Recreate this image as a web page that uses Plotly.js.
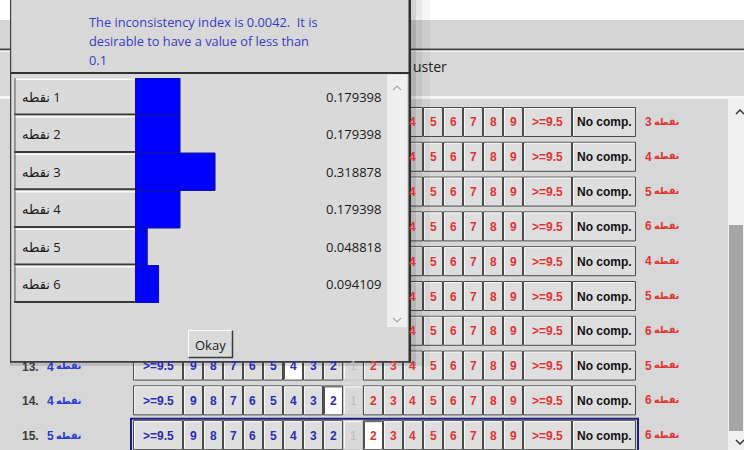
<!DOCTYPE html>
<html><head><meta charset="utf-8">
<script src="https://cdn.plot.ly/plotly-3.0.1.min.js"></script>
<style>html,body{margin:0;padding:0;background:#fff;}#chart{width:744px;height:450px;}</style>
</head><body><div id="chart"></div>
<script>
// ---------- data ----------
const itemLabels = ['نقطه 1', 'نقطه 2', 'نقطه 3', 'نقطه 4', 'نقطه 5', 'نقطه 6'];
const priorities = [0.179398, 0.179398, 0.318878, 0.179398, 0.048818, 0.094109];
const messageLines = ['The inconsistency index is 0.0042.  It is', 'desirable to have a value of less than', '0.1'];
const okLabel = 'Okay';
const itemWord = 'نقطه';
const rowNumbers = [6, 7, 8, 9, 10, 11, 12, 13, 14, 15];
const rowLeftItems = [2, 2, 2, 2, 3, 3, 3, 4, 4, 5];
const rowRightItems = [3, 4, 5, 6, 4, 5, 6, 5, 6, 6];
const scaleButtons = ['>=9.5', '9', '8', '7', '6', '5', '4', '3', '2', '1', '2', '3', '4', '5', '6', '7', '8', '9', '>=9.5', 'No comp.'];
const selectedButtons = {13: 6, 14: 8, 15: 10};
const activeRow = 15;
const clusterText = 'uster';

// ---------- helpers (layout only) ----------
const W = 744, H = 450;
const px = x => x / W, py = y => 1 - y / H;
const shapes = [], annotations = [];
function rect(x0, y0, x1, y1, fill, line, lw) {
  shapes.push({type: 'rect', xref: 'paper', yref: 'paper', x0: px(x0), x1: px(x1), y0: py(y1), y1: py(y0),
    fillcolor: fill, line: {color: line || 'rgba(0,0,0,0)', width: line ? (lw || 1) : 0}, layer: 'below'});
}
function path(pts, color, lw) {
  shapes.push({type: 'path', xref: 'paper', yref: 'paper',
    path: 'M ' + pts.map(p => px(p[0]) + ',' + py(p[1])).join(' L '),
    line: {color: color, width: lw || 1}, layer: 'below'});
}
function text(x, y, t, opts) {
  annotations.push(Object.assign({xref: 'paper', yref: 'paper', x: px(x), y: py(y), text: t, showarrow: false,
    xanchor: 'left', yanchor: 'middle', font: {family: 'Liberation Sans, Arial, DejaVu Sans', size: 12, color: '#222'}}, opts || {}));
}
function itemTag(x, y, n, color) {
  text(x, y, String(n), {font: {family: 'Liberation Sans, Arial', size: 12, color: color, weight: 'bold'}});
  text(x + 9, y - 1, itemWord, {font: {family: 'DejaVu Sans', size: 9.5, color: color, weight: 'bold'}});
}
const inDialog = (x, y) => x < 411 && y < 362;

// ---------- background window ----------
rect(0, 20, W, 48.5, '#d4d4d4');
rect(0, 48.5, W, 50.5, '#3c3c3c');
rect(0, 50.5, W, 52, '#f2f2f2');
rect(0, 52, W, 96, '#d9d9d9');
rect(0, 96, W, 99, '#f6f6f6');
rect(0, 99, 728, H, '#d7d7d7');
rect(728, 99, W, H, '#f0f0f0');
rect(729, 225, 743, 431, '#a6a6a6');
path([[736, 114], [740, 110], [744, 114]], '#333', 1.5);
path([[736, 440], [740, 444], [744, 440]], '#333', 1.5);
text(411, 66, clusterText, {font: {family: 'Open Sans, Noto Sans', size: 14, color: '#222'}});

// comparison rows
const blue = '#2c2cb4', red = '#e03434';
rowNumbers.forEach((rn, i) => {
  const yc = 122 + 34.8 * i;
  let x = 133;
  scaleButtons.forEach((lab, b) => {
    const w = lab === 'No comp.' ? 64 : (lab.startsWith('>=') ? (b === 0 ? 50 : 49) : 20);
    const x0 = x, x1 = x + w; x = x1;
    const sel = selectedButtons[rn] === b;
    const disabled = lab === '1';
    rect(x0 + 0.5, yc - 14.5, x1 - 0.5, yc + 14.5, sel ? '#ffffff' : (disabled ? '#d9d9d9' : '#dedede'),
         disabled ? '#c6c6c6' : '#4a4a4a', 1);
    path([[x0 + 1.5, yc + 13.5], [x0 + 1.5, yc - 13.5], [x1 - 1.5, yc - 13.5]], sel ? '#555' : '#fafafa', 1);
    const cx = (x0 + x1) / 2;
    if (!inDialog(cx, yc)) {
      const col = lab === 'No comp.' ? '#111' : (disabled ? '#bdbdbd' : (b < 9 ? blue : red));
      text(cx, yc + 0.5, lab, {xanchor: 'center', font: {family: 'Liberation Sans, Arial', size: 12, color: col, weight: disabled ? 'normal' : 'bold'}});
    }
  });
  itemTag(643, yc, rowRightItems[i], red);
  if (!inDialog(20, yc)) {
    text(20, yc + 1, rn + '.', {font: {family: 'Liberation Sans, Arial', size: 12, color: '#3a3a3a', weight: 'bold'}});
    itemTag(45, yc + 1, rowLeftItems[i], '#2a3ad0');
  }
  if (rn === activeRow) rect(131, yc - 16.5, 638, yc + 17.5, 'rgba(0,0,0,0)', '#1c1c7c', 2);
});

// ---------- dialog ----------
rect(411, 0, 416, 366, 'rgba(0,0,0,0.18)');
rect(416, 0, 422, 366, 'rgba(0,0,0,0.09)');
rect(422, 0, 430, 366, 'rgba(0,0,0,0.04)');
rect(10, 362, 416, 366, 'rgba(0,0,0,0.12)');
rect(10, 0, 411, 362.5, '#d8d8d8');
rect(10, 0, 11.2, 362.5, '#404040');
rect(408.5, 0, 411, 362.5, '#2e2e2e');
rect(10, 361, 411, 362.8, '#3a3a3a');
rect(11, 72, 409, 74, '#303030');
rect(12, 74.5, 387, 327, '#d9d9d9');
rect(387, 74.5, 407, 327, '#efefef');
path([[393, 90], [397, 86], [401, 90]], '#a8a8a8', 1.2);
path([[393, 318], [397, 322], [401, 318]], '#a8a8a8', 1.2);
messageLines.forEach((ln, k) => text(87, 22 + 19 * k, ln, {font: {family: 'Open Sans, Noto Sans', size: 12.8, color: '#3a3ac4'}}));

// label cells tied to the category axis
itemLabels.forEach((lab, i) => {
  shapes.push({type: 'rect', xref: 'paper', yref: 'y', x0: px(13), x1: px(135), y0: i - 0.5, y1: i + 0.5,
    fillcolor: '#dadada', line: {width: 0}, layer: 'below'});
  shapes.push({type: 'line', xref: 'paper', yref: 'y', x0: px(14), x1: px(135), y0: i - 0.47, y1: i - 0.47,
    line: {color: '#fbfbfb', width: 1.5}, layer: 'below'});
  shapes.push({type: 'line', xref: 'paper', yref: 'y', x0: px(14), x1: px(135), y0: i + 0.47, y1: i + 0.47,
    line: {color: '#3a3a3a', width: 2}, layer: 'below'});
  shapes.push({type: 'line', xref: 'paper', yref: 'y', x0: px(15), x1: px(15), y0: i - 0.5, y1: i + 0.5,
    line: {color: '#555', width: 1}, layer: 'below'});
  annotations.push({xref: 'paper', yref: 'y', x: px(20), y: i, text: lab.replace(' ', '\u200E '), showarrow: false,
    xanchor: 'left', yanchor: 'middle', font: {family: 'Open Sans, DejaVu Sans', size: 13, color: '#1a1a1a'}});
  annotations.push({xref: 'paper', yref: 'y', x: px(383), y: i, text: priorities[i].toFixed(6), showarrow: false,
    xanchor: 'right', yanchor: 'middle', font: {family: 'Open Sans, Noto Sans', size: 13, color: '#1a1a1a'}});
});

// Okay button
rect(188, 330, 233, 358, '#dadada');
path([[188.5, 358], [188.5, 330.5], [232.5, 330.5]], '#fdfdfd', 1);
path([[188.5, 357.5], [232.5, 357.5], [232.5, 330.5]], '#3a3a3a', 1.5);
text(210.5, 345, okLabel, {xanchor: 'center', font: {family: 'Open Sans, Noto Sans', size: 13, color: '#1a1a1a'}});

// ---------- bar chart ----------
const trace = {
  type: 'bar', orientation: 'h', y: itemLabels, x: priorities, width: 1,
  marker: {color: '#0000ff', line: {color: '#14148c', width: 1}}, hoverinfo: 'none'
};
const layout = {
  width: W, height: H, margin: {l: 0, r: 0, t: 0, b: 0}, showlegend: false,
  paper_bgcolor: '#ffffff', plot_bgcolor: 'rgba(0,0,0,0)',
  bargap: 0,
  xaxis: {domain: [px(135), px(387)], range: [0, 252 / 251], visible: false, fixedrange: true},
  yaxis: {domain: [py(303), py(78)], type: 'category', range: [5.5, -0.5], visible: false, fixedrange: true},
  shapes: shapes, annotations: annotations
};
Plotly.newPlot('chart', [trace], layout, {displayModeBar: false, staticPlot: true});
</script></body></html>
